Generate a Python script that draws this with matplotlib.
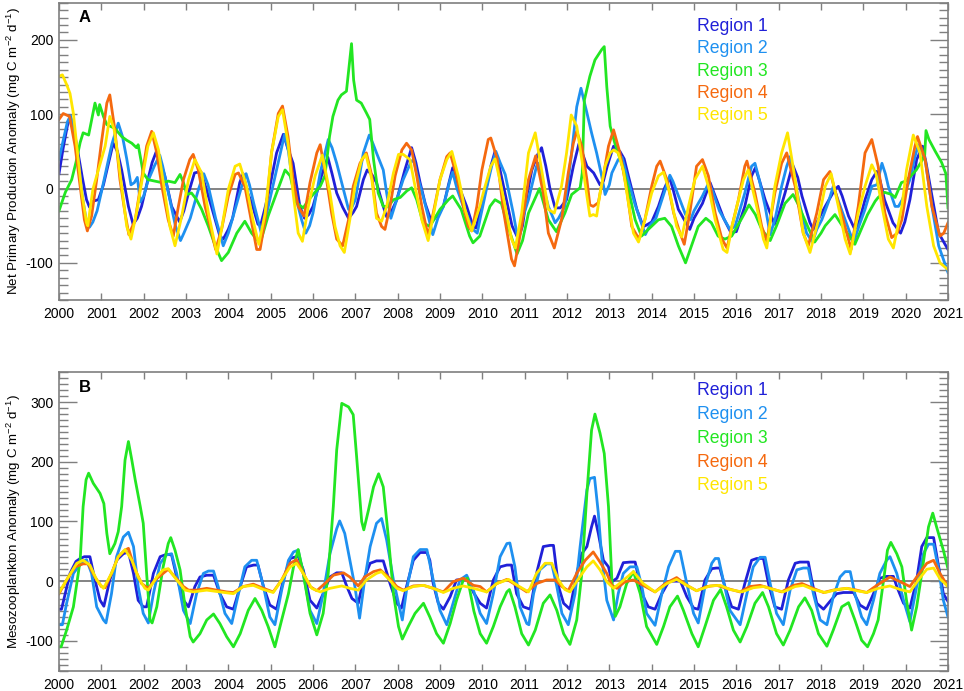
import matplotlib
matplotlib.use('Agg')
import matplotlib.pyplot as plt
import numpy as np
from matplotlib.ticker import MultipleLocator

plt.rcParams['font.family'] = ['Liberation Sans', 'DejaVu Sans']
plt.rcParams['mathtext.fontset'] = 'custom'
plt.rcParams['mathtext.rm'] = 'Liberation Sans'
plt.rcParams['axes.unicode_minus'] = False

regions = ['Region 1', 'Region 2', 'Region 3', 'Region 4', 'Region 5']
colors = ['#2020d8', '#1e90f0', '#22e622', '#f5690f', '#ffe600']

# (decimal year, anomaly)
npp_r1 = [(2000.0, 20), (2000.1, 55), (2000.2, 85), (2000.27, 97), (2000.35, 80), (2000.45, 48), (2000.55, 15),
          (2000.65, -15), (2000.72, -25), (2000.8, -17), (2000.93, -15), (2001.05, 5), (2001.17, 34), (2001.28, 61),
          (2001.38, 50), (2001.48, 25), (2001.64, -24), (2001.75, -48), (2001.85, -40), (2001.95, -24), (2002.1, 12),
          (2002.2, 35), (2002.3, 50), (2002.4, 35), (2002.5, 17), (2002.66, -24), (2002.85, -45), (2002.95, -30),
          (2003.06, -6), (2003.2, 21), (2003.35, 23), (2003.45, 5), (2003.6, -24), (2003.8, -64), (2003.88, -68),
          (2004.0, -55), (2004.1, -40), (2004.27, 8), (2004.35, 20), (2004.45, -5), (2004.55, -19), (2004.7, -48),
          (2004.76, -50), (2004.85, -30), (2004.95, -6), (2005.14, 48), (2005.3, 73), (2005.4, 55), (2005.53, 34),
          (2005.69, -24), (2005.8, -40), (2005.9, -35), (2006.0, -24), (2006.2, 17), (2006.35, 42), (2006.45, 20),
          (2006.56, -6), (2006.7, -25), (2006.84, -40), (2006.95, -32), (2007.03, -24), (2007.19, 12), (2007.28, 25),
          (2007.4, 18), (2007.5, 8), (2007.66, -24), (2007.74, -38), (2007.82, -35), (2007.98, -15), (2008.17, 25),
          (2008.33, 55), (2008.43, 35), (2008.53, 8), (2008.65, -20), (2008.8, -45), (2008.95, -35), (2009.08, -24),
          (2009.2, 5), (2009.3, 28), (2009.4, 10), (2009.5, -5), (2009.63, -24), (2009.78, -51), (2009.85, -53),
          (2009.95, -30), (2010.1, 3), (2010.2, 30), (2010.3, 50), (2010.4, 30), (2010.55, -10), (2010.7, -50),
          (2010.85, -68), (2010.95, -50), (2011.05, -10), (2011.17, 25), (2011.3, 45), (2011.4, 55), (2011.5, 30),
          (2011.6, -1), (2011.72, -26), (2011.84, -26), (2011.99, -15), (2012.15, 30), (2012.28, 60), (2012.38, 45),
          (2012.47, 30), (2012.63, 21), (2012.78, 5), (2012.86, 10), (2012.95, 30), (2013.1, 57), (2013.25, 50),
          (2013.35, 40), (2013.45, 17), (2013.65, -28), (2013.8, -51), (2013.85, -50), (2014.0, -45), (2014.16, -24),
          (2014.3, 0), (2014.42, 15), (2014.5, 0), (2014.63, -28), (2014.9, -55), (2015.0, -40), (2015.2, -20),
          (2015.38, 8), (2015.5, -10), (2015.7, -40), (2015.87, -59), (2016.0, -58), (2016.2, -24), (2016.36, 17),
          (2016.45, 28), (2016.55, 10), (2016.68, -15), (2016.9, -48), (2017.0, -35), (2017.15, -6), (2017.33, 32),
          (2017.45, 15), (2017.55, -10), (2017.74, -46), (2017.82, -55), (2017.95, -40), (2018.1, -24), (2018.33, -1),
          (2018.41, 3), (2018.5, -10), (2018.65, -37), (2018.8, -55), (2018.9, -45), (2019.04, -15), (2019.2, 12),
          (2019.32, 23), (2019.4, 10), (2019.5, -15), (2019.7, -46), (2019.88, -60), (2019.98, -45), (2020.1, -15),
          (2020.26, 39), (2020.4, 57), (2020.48, 35), (2020.58, 3), (2020.78, -60), (2020.9, -72), (2021.0, -82)]

npp_r2 = [(2000.0, 39), (2000.1, 65), (2000.2, 90), (2000.27, 98), (2000.35, 80), (2000.45, 40), (2000.55, -10),
          (2000.65, -45), (2000.72, -52), (2000.8, -45), (2000.9, -30), (2001.0, -5), (2001.1, 21), (2001.25, 60),
          (2001.4, 88), (2001.5, 70), (2001.6, 40), (2001.7, 5), (2001.78, 8), (2001.85, 15), (2001.92, -18),
          (2002.0, -10), (2002.1, 10), (2002.25, 30), (2002.38, 45), (2002.45, 30), (2002.6, -10), (2002.75, -50),
          (2002.87, -70), (2002.95, -60), (2003.1, -40), (2003.3, 0), (2003.42, 20), (2003.52, 5), (2003.7, -40),
          (2003.88, -77), (2004.0, -60), (2004.1, -40), (2004.3, 0), (2004.42, 20), (2004.5, 5), (2004.6, -20),
          (2004.78, -60), (2004.9, -35), (2005.0, -10), (2005.2, 40), (2005.33, 73), (2005.42, 50), (2005.53, 3),
          (2005.73, -42), (2005.83, -60), (2005.92, -50), (2006.0, -33), (2006.17, 21), (2006.36, 66), (2006.45, 55),
          (2006.56, 34), (2006.76, -10), (2006.84, -28), (2006.92, -25), (2007.0, -15), (2007.19, 48), (2007.33, 72),
          (2007.42, 60), (2007.5, 48), (2007.66, 25), (2007.74, -6), (2007.84, -40), (2007.95, -20), (2008.13, 12),
          (2008.3, 34), (2008.38, 40), (2008.45, 20), (2008.6, -10), (2008.83, -62), (2008.95, -40), (2009.08, -24),
          (2009.24, 12), (2009.3, 22), (2009.4, 0), (2009.55, -24), (2009.78, -55), (2009.88, -60), (2009.95, -40),
          (2010.1, 0), (2010.22, 30), (2010.32, 50), (2010.42, 35), (2010.54, 19), (2010.73, -33), (2010.83, -65),
          (2010.95, -40), (2011.09, -15), (2011.28, 30), (2011.33, 34), (2011.45, 0), (2011.56, -24), (2011.72, -46),
          (2011.8, -40), (2011.95, -24), (2012.11, 48), (2012.23, 110), (2012.33, 135), (2012.47, 102), (2012.58, 75),
          (2012.7, 48), (2012.82, 17), (2012.9, -8), (2013.0, 5), (2013.06, 21), (2013.21, 39), (2013.3, 42),
          (2013.45, 10), (2013.6, -20), (2013.85, -62), (2013.95, -50), (2014.1, -40), (2014.3, -5), (2014.43, 18),
          (2014.5, 10), (2014.6, -5), (2014.8, -35), (2014.92, -42), (2015.0, -30), (2015.2, -10), (2015.35, 8),
          (2015.45, -5), (2015.6, -30), (2015.85, -55), (2015.97, -51), (2016.2, -6), (2016.36, 30), (2016.44, 34),
          (2016.55, 10), (2016.68, -24), (2016.8, -62), (2016.92, -40), (2017.07, 3), (2017.19, 30), (2017.27, 43),
          (2017.35, 20), (2017.47, -15), (2017.66, -60), (2017.8, -72), (2017.9, -55), (2018.02, -42), (2018.17, -19),
          (2018.29, 3), (2018.4, -15), (2018.57, -42), (2018.77, -73), (2018.9, -50), (2019.04, -28), (2019.2, 3),
          (2019.32, 5), (2019.44, 34), (2019.52, 20), (2019.59, 3), (2019.75, -24), (2019.83, -24), (2019.92, -15),
          (2020.1, 12), (2020.22, 43), (2020.3, 59), (2020.46, 39), (2020.62, -24), (2020.78, -77), (2021.0, -113)]

npp_r3 = [(2000.0, -30), (2000.15, -5), (2000.3, 12), (2000.4, 35), (2000.5, 62), (2000.57, 75), (2000.7, 72),
          (2000.78, 95), (2000.85, 115), (2000.9, 105), (2000.93, 99), (2000.96, 113), (2001.05, 97), (2001.13, 86),
          (2001.32, 81), (2001.48, 70), (2001.6, 65), (2001.72, 61), (2001.83, 55), (2001.87, 59), (2001.99, 21),
          (2002.1, 12), (2002.27, 10), (2002.43, 8), (2002.58, 10), (2002.74, 8), (2002.86, 19), (2002.94, 8),
          (2003.02, -8), (2003.13, -6), (2003.25, -15), (2003.37, -28), (2003.53, -51), (2003.69, -77), (2003.84, -97),
          (2004.0, -86), (2004.2, -60), (2004.39, -44), (2004.55, -60), (2004.71, -71), (2004.78, -68), (2004.94, -37),
          (2005.14, -6), (2005.34, 25), (2005.46, 17), (2005.61, -19), (2005.77, -26), (2005.9, -15), (2006.0, -8),
          (2006.17, 3), (2006.28, 17), (2006.33, 40), (2006.39, 70), (2006.47, 97), (2006.59, 119), (2006.67, 126),
          (2006.79, 131), (2006.87, 173), (2006.91, 195), (2006.96, 146), (2007.03, 119), (2007.14, 115),
          (2007.26, 102), (2007.34, 93), (2007.43, 39), (2007.54, -6), (2007.66, -24), (2007.78, -24), (2007.9, -15),
          (2008.06, -12), (2008.22, -3), (2008.33, 1), (2008.45, -15), (2008.6, -46), (2008.76, -51), (2009.0, -28),
          (2009.2, -15), (2009.3, -10), (2009.5, -28), (2009.7, -64), (2009.78, -73), (2009.94, -64), (2010.18, -24),
          (2010.3, -15), (2010.45, -20), (2010.6, -50), (2010.82, -88), (2010.95, -70), (2011.09, -33), (2011.35, 0),
          (2011.45, -20), (2011.56, -42), (2011.75, -58), (2011.95, -33), (2012.11, -8), (2012.31, 1), (2012.36, 21),
          (2012.41, 119), (2012.54, 151), (2012.66, 173), (2012.82, 187), (2012.88, 191), (2012.94, 137),
          (2013.02, 84), (2013.13, 61), (2013.29, 34), (2013.45, -1), (2013.61, -42), (2013.76, -64), (2013.92, -55),
          (2014.16, -42), (2014.31, -40), (2014.47, -51), (2014.63, -77), (2014.8, -100), (2014.94, -77),
          (2015.1, -51), (2015.28, -40), (2015.41, -46), (2015.57, -64), (2015.73, -68), (2015.89, -64),
          (2016.13, -40), (2016.3, -22), (2016.45, -35), (2016.6, -55), (2016.8, -70), (2016.95, -50), (2017.15, -20),
          (2017.34, -8), (2017.45, -20), (2017.6, -40), (2017.85, -72), (2018.0, -60), (2018.1, -50), (2018.33, -35),
          (2018.5, -50), (2018.8, -75), (2018.95, -55), (2019.1, -35), (2019.28, -17), (2019.35, -12), (2019.5, -5),
          (2019.67, -8), (2019.75, -12), (2019.9, 8), (2020.0, 10), (2020.14, 18), (2020.25, 25), (2020.38, 37),
          (2020.45, 45), (2020.48, 78), (2020.55, 66), (2020.7, 50), (2020.85, 35), (2020.95, 20), (2021.0, -26)]

npp_r4 = [(2000.0, 93), (2000.1, 101), (2000.25, 97), (2000.38, 57), (2000.5, 3), (2000.6, -42), (2000.67, -57),
          (2000.77, -37), (2000.89, 12), (2001.0, 61), (2001.13, 115), (2001.2, 126), (2001.32, 79), (2001.44, 12),
          (2001.56, -33), (2001.65, -62), (2001.8, -42), (2001.95, 12), (2002.07, 57), (2002.19, 77), (2002.31, 48),
          (2002.43, 3), (2002.58, -42), (2002.7, -64), (2002.82, -24), (2002.94, 12), (2003.09, 39), (2003.17, 46),
          (2003.29, 25), (2003.45, -24), (2003.61, -60), (2003.7, -82), (2003.84, -55), (2004.0, -10), (2004.16, 19),
          (2004.24, 21), (2004.39, 3), (2004.55, -46), (2004.67, -82), (2004.75, -82), (2004.87, -42), (2005.02, 48),
          (2005.18, 101), (2005.28, 111), (2005.41, 70), (2005.53, 12), (2005.65, -24), (2005.79, -37), (2005.93, 8),
          (2006.09, 48), (2006.17, 59), (2006.32, 12), (2006.44, -33), (2006.56, -68), (2006.7, -77), (2006.84, -42),
          (2006.95, 3), (2007.11, 34), (2007.26, 48), (2007.39, 17), (2007.5, -33), (2007.62, -51), (2007.7, -55),
          (2007.82, -24), (2007.94, 17), (2008.1, 52), (2008.21, 61), (2008.33, 52), (2008.45, 17), (2008.57, -24),
          (2008.72, -64), (2008.84, -33), (2009.0, 12), (2009.16, 43), (2009.24, 48), (2009.39, 17), (2009.55, -24),
          (2009.67, -51), (2009.75, -57), (2009.87, -24), (2009.99, 25), (2010.14, 66), (2010.2, 68), (2010.35, 40),
          (2010.5, -30), (2010.69, -95), (2010.76, -104), (2010.93, -51), (2011.09, 12), (2011.26, 44), (2011.44, -6),
          (2011.56, -60), (2011.7, -80), (2011.87, -42), (2012.03, 21), (2012.15, 61), (2012.23, 77), (2012.35, 57),
          (2012.47, 12), (2012.54, -22), (2012.62, -24), (2012.74, -19), (2012.86, 17), (2012.98, 57), (2013.1, 79),
          (2013.25, 48), (2013.41, -1), (2013.53, -51), (2013.7, -68), (2013.84, -42), (2014.0, 3), (2014.12, 30),
          (2014.2, 37), (2014.36, 12), (2014.52, -33), (2014.67, -60), (2014.77, -75), (2014.9, -33), (2015.06, 30),
          (2015.2, 39), (2015.34, 17), (2015.5, -33), (2015.66, -68), (2015.78, -80), (2015.9, -50), (2016.05, -15),
          (2016.2, 30), (2016.25, 37), (2016.44, -6), (2016.6, -51), (2016.72, -71), (2016.91, -6), (2017.07, 34),
          (2017.19, 48), (2017.39, 3), (2017.58, -60), (2017.7, -77), (2017.9, -33), (2018.06, 12), (2018.21, 23),
          (2018.41, -19), (2018.61, -60), (2018.71, -82), (2018.88, -24), (2019.04, 48), (2019.2, 66), (2019.35, 30),
          (2019.51, -33), (2019.67, -66), (2019.8, -60), (2019.91, -42), (2020.06, 12), (2020.22, 57), (2020.28, 70),
          (2020.46, 39), (2020.62, -24), (2020.81, -64), (2020.9, -60), (2021.0, -46)]

npp_r5 = [(2000.0, 151), (2000.08, 153), (2000.18, 140), (2000.26, 128), (2000.34, 101), (2000.42, 57),
          (2000.54, -6), (2000.65, -46), (2000.68, -50), (2000.8, -1), (2000.93, 25), (2001.09, 57), (2001.2, 97),
          (2001.3, 80), (2001.36, 57), (2001.48, 3), (2001.6, -51), (2001.7, -68), (2001.83, -33), (2001.99, 21),
          (2002.1, 57), (2002.23, 75), (2002.35, 52), (2002.5, -6), (2002.62, -51), (2002.74, -77), (2002.9, -37),
          (2003.06, 12), (2003.21, 39), (2003.37, 21), (2003.53, -33), (2003.73, -88), (2003.84, -55), (2004.0, -1),
          (2004.16, 30), (2004.27, 33), (2004.43, 3), (2004.58, -42), (2004.72, -75), (2004.87, -33), (2005.02, 48),
          (2005.18, 97), (2005.28, 106), (2005.41, 61), (2005.53, -6), (2005.65, -60), (2005.75, -71), (2005.89, -24),
          (2006.05, 17), (2006.22, 45), (2006.4, -6), (2006.52, -51), (2006.64, -77), (2006.74, -86), (2006.87, -42),
          (2006.99, 3), (2007.15, 39), (2007.25, 46), (2007.39, 12), (2007.5, -40), (2007.62, -44), (2007.74, -24),
          (2007.9, 21), (2008.02, 46), (2008.13, 46), (2008.29, 39), (2008.41, 3), (2008.57, -42), (2008.72, -70),
          (2008.84, -37), (2009.0, 12), (2009.16, 39), (2009.28, 50), (2009.43, 17), (2009.59, -28), (2009.75, -57),
          (2009.94, -24), (2010.05, 0), (2010.2, 30), (2010.3, 40), (2010.42, 10), (2010.54, -24), (2010.69, -68),
          (2010.78, -80), (2010.93, -33), (2011.09, 48), (2011.25, 75), (2011.4, 25), (2011.56, -28), (2011.7, -33),
          (2011.87, 3), (2011.99, 48), (2012.1, 99), (2012.23, 84), (2012.35, 39), (2012.47, -10), (2012.54, -37),
          (2012.62, -35), (2012.7, -37), (2012.78, -6), (2012.9, 30), (2013.02, 48), (2013.1, 52), (2013.21, 48),
          (2013.33, 25), (2013.45, -19), (2013.57, -60), (2013.69, -72), (2013.84, -42), (2014.0, -6), (2014.16, 17),
          (2014.28, 22), (2014.43, -6), (2014.59, -51), (2014.71, -65), (2014.87, -24), (2015.02, 12), (2015.2, 30),
          (2015.34, 3), (2015.5, -42), (2015.69, -82), (2015.78, -86), (2015.9, -50), (2016.05, -15), (2016.17, 12),
          (2016.28, 25), (2016.48, -24), (2016.64, -68), (2016.72, -80), (2016.91, 3), (2017.07, 48), (2017.21, 75),
          (2017.39, 12), (2017.58, -60), (2017.74, -86), (2017.94, -42), (2018.1, 3), (2018.24, 20), (2018.41, -24),
          (2018.57, -68), (2018.69, -88), (2018.88, -33), (2019.04, 3), (2019.2, 32), (2019.3, 20), (2019.44, -24),
          (2019.59, -68), (2019.71, -80), (2019.91, -24), (2020.02, 25), (2020.18, 72), (2020.34, 48), (2020.5, -24),
          (2020.66, -77), (2020.81, -100), (2021.0, -109)]

meso_r1 = [(2000.0, -47), (2000.06, -47), (2000.15, -20), (2000.26, 13), (2000.4, 33), (2000.5, 38), (2000.6, 41),
           (2000.73, 41), (2000.85, 2), (2000.97, -32), (2001.06, -42), (2001.2, 2), (2001.36, 35), (2001.52, 46),
           (2001.64, 49), (2001.76, 13), (2001.87, -32), (2001.99, -43), (2002.07, -43), (2002.23, 13), (2002.39, 41),
           (2002.54, 45), (2002.66, 44), (2002.78, 7), (2002.94, -32), (2003.06, -43), (2003.21, -9), (2003.33, 7),
           (2003.49, 10), (2003.65, 10), (2003.8, -21), (2003.96, -43), (2004.12, -47), (2004.28, -9), (2004.43, 24),
           (2004.6, 27), (2004.7, 27), (2004.83, -9), (2004.98, -40), (2005.14, -47), (2005.3, 2), (2005.46, 38),
           (2005.65, 42), (2005.77, 19), (2005.93, -32), (2006.09, -45), (2006.24, -21), (2006.4, 7), (2006.56, 14),
           (2006.68, 14), (2006.8, -9), (2006.92, -29), (2007.07, -37), (2007.19, 2), (2007.35, 30), (2007.5, 34),
           (2007.66, 34), (2007.82, -4), (2007.98, -37), (2008.09, -45), (2008.21, -9), (2008.37, 35), (2008.53, 48),
           (2008.69, 48), (2008.76, 35), (2008.84, -4), (2008.96, -37), (2009.08, -47), (2009.24, -26), (2009.39, 2),
           (2009.55, 3), (2009.65, 3), (2009.8, -20), (2009.95, -37), (2010.1, -45), (2010.26, 2), (2010.42, 24),
           (2010.58, 27), (2010.69, 27), (2010.81, -21), (2010.97, -43), (2011.13, -47), (2011.28, 13), (2011.44, 58),
           (2011.6, 60), (2011.68, 60), (2011.8, -9), (2011.92, -37), (2012.07, -47), (2012.23, 13), (2012.35, 46),
           (2012.47, 58), (2012.58, 91), (2012.65, 109), (2012.74, 80), (2012.86, 35), (2012.98, 24), (2013.06, -1),
           (2013.18, 5), (2013.33, 31), (2013.49, 32), (2013.61, 32), (2013.77, -21), (2013.92, -43), (2014.08, -47),
           (2014.24, -21), (2014.4, -1), (2014.52, 0), (2014.68, 0), (2014.83, -26), (2014.99, -45), (2015.1, -47),
           (2015.26, 2), (2015.42, 21), (2015.53, 22), (2015.61, 22), (2015.73, -9), (2015.89, -43), (2016.05, -47),
           (2016.2, -4), (2016.36, 35), (2016.48, 38), (2016.64, 38), (2016.76, -4), (2016.91, -43), (2017.07, -47),
           (2017.23, 2), (2017.39, 30), (2017.5, 32), (2017.7, 32), (2017.78, 2), (2017.9, -37), (2018.06, -47),
           (2018.21, -34), (2018.37, -21), (2018.53, -19), (2018.77, -19), (2018.92, -40), (2019.08, -47),
           (2019.24, -21), (2019.39, 5), (2019.55, 8), (2019.71, 8), (2019.79, -9), (2019.95, -37), (2020.1, -45),
           (2020.26, 2), (2020.38, 58), (2020.5, 73), (2020.66, 73), (2020.78, 24), (2020.89, -21), (2021.0, -34)]

meso_r2 = [(2000.0, -73), (2000.08, -73), (2000.18, -37), (2000.34, 13), (2000.54, 32), (2000.65, 36), (2000.77, 13),
           (2000.89, -43), (2001.05, -65), (2001.11, -70), (2001.24, -21), (2001.36, 41), (2001.52, 74), (2001.64, 82),
           (2001.76, 58), (2001.87, -9), (2001.99, -54), (2002.11, -70), (2002.23, -21), (2002.39, 30), (2002.54, 44),
           (2002.66, 46), (2002.78, 13), (2002.94, -49), (2003.1, -71), (2003.25, -21), (2003.41, 13), (2003.53, 17),
           (2003.65, 17), (2003.76, -9), (2003.92, -54), (2004.08, -71), (2004.24, -21), (2004.39, 24), (2004.55, 35),
           (2004.67, 35), (2004.83, -9), (2004.98, -60), (2005.1, -73), (2005.26, -15), (2005.42, 35), (2005.54, 49),
           (2005.65, 52), (2005.77, 13), (2005.93, -49), (2006.09, -71), (2006.24, -21), (2006.4, 46), (2006.56, 88),
           (2006.63, 101), (2006.75, 80), (2006.87, 35), (2006.99, -9), (2007.1, -62), (2007.22, 2), (2007.35, 58),
           (2007.5, 97), (2007.62, 105), (2007.74, 69), (2007.9, 2), (2008.02, -37), (2008.11, -65), (2008.21, -15),
           (2008.37, 41), (2008.53, 53), (2008.69, 53), (2008.84, 2), (2009.0, -49), (2009.16, -73), (2009.31, -37),
           (2009.47, 2), (2009.63, 10), (2009.79, -15), (2009.95, -54), (2010.1, -71), (2010.26, -21), (2010.42, 41),
           (2010.58, 63), (2010.65, 64), (2010.77, 24), (2010.89, -43), (2011.05, -71), (2011.1, -73), (2011.21, -21),
           (2011.36, 19), (2011.52, 29), (2011.64, 29), (2011.76, -9), (2011.88, -54), (2012.03, -73), (2012.19, -21),
           (2012.31, 58), (2012.47, 153), (2012.54, 172), (2012.65, 174), (2012.74, 114), (2012.82, 41),
           (2012.94, -32), (2013.1, -65), (2013.21, -21), (2013.33, 13), (2013.49, 24), (2013.65, 24), (2013.77, -9),
           (2013.88, -54), (2014.08, -74), (2014.24, -21), (2014.4, 24), (2014.56, 50), (2014.67, 50), (2014.83, -4),
           (2014.99, -54), (2015.1, -70), (2015.26, -9), (2015.42, 30), (2015.5, 38), (2015.58, 38), (2015.69, 2),
           (2015.85, -49), (2016.09, -73), (2016.25, -21), (2016.4, 24), (2016.56, 40), (2016.68, 40), (2016.8, -4),
           (2016.95, -54), (2017.11, -73), (2017.27, -15), (2017.43, 19), (2017.58, 22), (2017.7, 22), (2017.82, -21),
           (2017.98, -65), (2018.14, -73), (2018.29, -26), (2018.45, 7), (2018.57, 16), (2018.69, 16), (2018.8, -21),
           (2018.96, -60), (2019.08, -73), (2019.24, -32), (2019.39, 13), (2019.55, 35), (2019.63, 41), (2019.79, 13),
           (2019.95, -32), (2020.1, -68), (2020.26, -9), (2020.42, 46), (2020.54, 62), (2020.66, 62), (2020.78, 19),
           (2020.89, -32), (2021.0, -60)]

meso_r3 = [(2000.0, -110), (2000.05, -110), (2000.18, -82), (2000.34, -43), (2000.5, 35), (2000.57, 125),
           (2000.64, 170), (2000.7, 181), (2000.81, 164), (2000.97, 147), (2001.06, 130), (2001.13, 80), (2001.2, 46),
           (2001.32, 63), (2001.4, 83), (2001.48, 125), (2001.56, 203), (2001.64, 234), (2001.72, 203), (2001.8, 170),
           (2001.92, 125), (2001.99, 97), (2002.07, 13), (2002.15, -65), (2002.2, -70), (2002.31, -43), (2002.46, 24),
           (2002.58, 63), (2002.64, 73), (2002.74, 52), (2002.86, 19), (2002.98, -43), (2003.1, -93), (2003.17, -102),
           (2003.33, -88), (2003.49, -65), (2003.65, -55), (2003.8, -71), (2003.96, -93), (2004.12, -110),
           (2004.28, -88), (2004.47, -49), (2004.63, -29), (2004.79, -49), (2004.94, -76), (2005.1, -110),
           (2005.26, -65), (2005.42, -21), (2005.54, 24), (2005.65, 53), (2005.77, 13), (2005.93, -54), (2006.09, -90),
           (2006.24, -54), (2006.36, 13), (2006.48, 125), (2006.56, 220), (2006.68, 298), (2006.84, 292),
           (2006.95, 279), (2007.03, 209), (2007.15, 100), (2007.2, 86), (2007.31, 119), (2007.43, 158),
           (2007.55, 180), (2007.66, 158), (2007.78, 74), (2007.9, -21), (2008.02, -76), (2008.11, -97),
           (2008.25, -76), (2008.41, -54), (2008.61, -37), (2008.76, -60), (2008.92, -88), (2009.08, -104),
           (2009.24, -71), (2009.39, -32), (2009.55, 2), (2009.65, 5), (2009.8, -50), (2009.95, -88), (2010.1, -104),
           (2010.26, -76), (2010.42, -43), (2010.58, -18), (2010.64, -14), (2010.77, -43), (2010.93, -88),
           (2011.09, -107), (2011.25, -82), (2011.44, -37), (2011.6, -23), (2011.76, -49), (2011.92, -88),
           (2012.07, -106), (2012.23, -65), (2012.35, 13), (2012.47, 147), (2012.58, 253), (2012.66, 280),
           (2012.78, 248), (2012.88, 214), (2012.98, 125), (2013.06, 2), (2013.14, -59), (2013.25, -43),
           (2013.41, -4), (2013.57, 16), (2013.73, -21), (2013.88, -76), (2014.12, -106), (2014.28, -76),
           (2014.43, -43), (2014.61, -25), (2014.75, -49), (2014.95, -88), (2015.1, -110), (2015.26, -76),
           (2015.46, -32), (2015.63, -14), (2015.77, -43), (2015.93, -82), (2016.09, -102), (2016.25, -76),
           (2016.44, -37), (2016.62, -19), (2016.76, -43), (2016.95, -88), (2017.11, -107), (2017.27, -82),
           (2017.47, -43), (2017.62, -28), (2017.78, -49), (2017.94, -88), (2018.14, -109), (2018.29, -82),
           (2018.49, -43), (2018.65, -36), (2018.8, -65), (2018.96, -99), (2019.1, -110), (2019.24, -88),
           (2019.35, -65), (2019.5, 13), (2019.57, 52), (2019.65, 65), (2019.79, 46), (2019.91, 24), (2020.02, -32),
           (2020.14, -82), (2020.26, -43), (2020.38, 13), (2020.54, 91), (2020.64, 114), (2020.73, 91),
           (2020.89, 52), (2021.0, 21)]

meso_r4 = [(2000.0, -21), (2000.18, 2), (2000.38, 24), (2000.57, 29), (2000.69, 29), (2000.85, 7), (2001.0, -9),
           (2001.09, -11), (2001.24, 13), (2001.4, 41), (2001.56, 52), (2001.64, 55), (2001.8, 19), (2001.95, -4),
           (2002.11, -12), (2002.27, 2), (2002.46, 13), (2002.58, 20), (2002.74, 7), (2002.94, -9), (2003.06, -15),
           (2003.25, -15), (2003.49, -12), (2003.72, -15), (2003.96, -18), (2004.12, -19), (2004.35, -9),
           (2004.59, -5), (2004.83, -12), (2005.06, -18), (2005.26, 2), (2005.46, 30), (2005.61, 36), (2005.77, 13),
           (2005.93, -9), (2006.09, -16), (2006.28, -4), (2006.48, 10), (2006.72, 14), (2006.87, 7), (2007.07, -8),
           (2007.22, 7), (2007.43, 16), (2007.59, 19), (2007.78, 7), (2007.98, -9), (2008.13, -15), (2008.37, -8),
           (2008.61, -7), (2008.84, -12), (2009.08, -18), (2009.31, -1), (2009.55, 5), (2009.79, -7), (2009.95, -9),
           (2010.1, -18), (2010.34, -4), (2010.58, 3), (2010.81, -7), (2011.05, -18), (2011.28, -4), (2011.52, 2),
           (2011.72, 2), (2011.88, -9), (2012.03, -16), (2012.23, 13), (2012.43, 35), (2012.62, 49), (2012.78, 32),
           (2012.94, 13), (2013.06, -7), (2013.18, -12), (2013.37, -1), (2013.57, 2), (2013.8, -7), (2014.08, -18),
           (2014.32, -4), (2014.59, 6), (2014.83, -7), (2015.06, -16), (2015.3, -9), (2015.54, -7), (2015.77, -12),
           (2016.09, -18), (2016.32, -9), (2016.56, -7), (2016.8, -12), (2017.07, -18), (2017.35, -7), (2017.55, -4),
           (2017.78, -11), (2018.06, -19), (2018.29, -15), (2018.61, -12), (2018.84, -15), (2019.08, -19),
           (2019.32, -7), (2019.63, 7), (2019.87, -1), (2020.1, -9), (2020.26, 7), (2020.5, 30), (2020.66, 35),
           (2020.81, 13), (2021.0, -9)]

meso_r5 = [(2000.0, -19), (2000.18, 2), (2000.42, 30), (2000.57, 35), (2000.73, 27), (2000.89, 2), (2001.05, -12),
           (2001.24, 13), (2001.4, 41), (2001.56, 53), (2001.72, 35), (2001.87, 7), (2002.03, -12), (2002.11, -15),
           (2002.31, 7), (2002.46, 19), (2002.58, 21), (2002.78, 2), (2002.98, -15), (2003.17, -18), (2003.49, -15),
           (2003.8, -18), (2004.12, -21), (2004.35, -9), (2004.59, -7), (2004.83, -14), (2005.06, -19), (2005.26, 2),
           (2005.46, 24), (2005.61, 30), (2005.77, 13), (2005.97, -12), (2006.17, -18), (2006.4, -12), (2006.68, -8),
           (2006.87, -12), (2007.07, -15), (2007.26, 2), (2007.5, 13), (2007.62, 16), (2007.78, 4), (2007.98, -12),
           (2008.13, -16), (2008.37, -9), (2008.61, -7), (2008.84, -12), (2009.08, -19), (2009.31, -12),
           (2009.55, -8), (2009.79, -12), (2009.95, -15), (2010.1, -18), (2010.34, -4), (2010.62, 3), (2010.85, -8),
           (2011.09, -18), (2011.28, 13), (2011.48, 30), (2011.64, 30), (2011.8, 2), (2011.95, -14), (2012.07, -18),
           (2012.27, 4), (2012.47, 24), (2012.62, 34), (2012.78, 19), (2012.94, -1), (2013.1, -12), (2013.29, -1),
           (2013.57, 16), (2013.8, -4), (2014.08, -18), (2014.36, -4), (2014.59, 3), (2014.83, -7), (2015.06, -16),
           (2015.38, -8), (2015.62, -7), (2015.85, -14), (2016.13, -18), (2016.4, -11), (2016.64, -9), (2016.88, -14),
           (2017.11, -18), (2017.39, -9), (2017.58, -7), (2017.82, -14), (2018.1, -19), (2018.37, -14),
           (2018.61, -12), (2018.84, -16), (2019.08, -19), (2019.35, -12), (2019.63, -8), (2019.87, -14),
           (2020.1, -18), (2020.3, 2), (2020.5, 20), (2020.66, 22), (2020.81, 4), (2021.0, -9)]

npp_series = [npp_r1, npp_r2, npp_r3, npp_r4, npp_r5]
meso_series = [meso_r1, meso_r2, meso_r3, meso_r4, meso_r5]

fig = plt.figure(figsize=(9.64, 6.91), dpi=100)
axA = fig.add_axes([0.0612, 0.5658, 0.9222, 0.4302])
axB = fig.add_axes([0.0612, 0.0294, 0.9222, 0.4318])

panels = [
    (axA, npp_series, (-150, 250), 'Net Primary Production Anomaly (mg C m$^{-2}$ d$^{-1}$)', 'A',
     [0.9216, 0.845, 0.770, 0.696, 0.620]),
    (axB, meso_series, (-150, 350), 'Mesozooplankton Anomaly (mg C m$^{-2}$ d$^{-1}$)', 'B',
     [0.9407, 0.860, 0.779, 0.699, 0.619]),
]

for ax, series, ylim, ylabel, letter, leg_y in panels:
    ax.axhline(0, color='#7a7a7a', lw=1.3, zorder=1)
    for data, col in zip(series, colors):
        arr = np.array(data, dtype=float)
        ax.plot(arr[:, 0], arr[:, 1], color=col, lw=2.0, zorder=2)

    ax.set_xlim(2000, 2021)
    ax.set_ylim(*ylim)
    ax.xaxis.set_major_locator(MultipleLocator(1))
    ax.yaxis.set_major_locator(MultipleLocator(100))
    ax.yaxis.set_minor_locator(MultipleLocator(10))
    ax.tick_params(which='both', direction='in', top=True, right=True,
                   color='#7f7f7f', labelcolor='black', labelsize=10)
    ax.tick_params(axis='y', which='major', length=13, width=1, pad=4)
    ax.tick_params(axis='y', which='minor', length=6.5, width=1)
    ax.tick_params(axis='x', which='major', length=5, width=1, pad=5)
    for sp in ax.spines.values():
        sp.set_color('#7f7f7f')
        sp.set_linewidth(1.2)

    ax.set_ylabel(ylabel, fontsize=9.6)
    ax.yaxis.set_label_coords(-0.04, 0.5)

    ax.text(0.0225, 0.949, letter, transform=ax.transAxes, fontsize=12,
            fontweight='bold', va='center', ha='left')
    for name, col, yy in zip(regions, colors, leg_y):
        ax.text(0.7177, yy, name, transform=ax.transAxes, color=col,
                fontsize=12.7, va='center', ha='left')

fig.savefig('out.png', dpi=100)
